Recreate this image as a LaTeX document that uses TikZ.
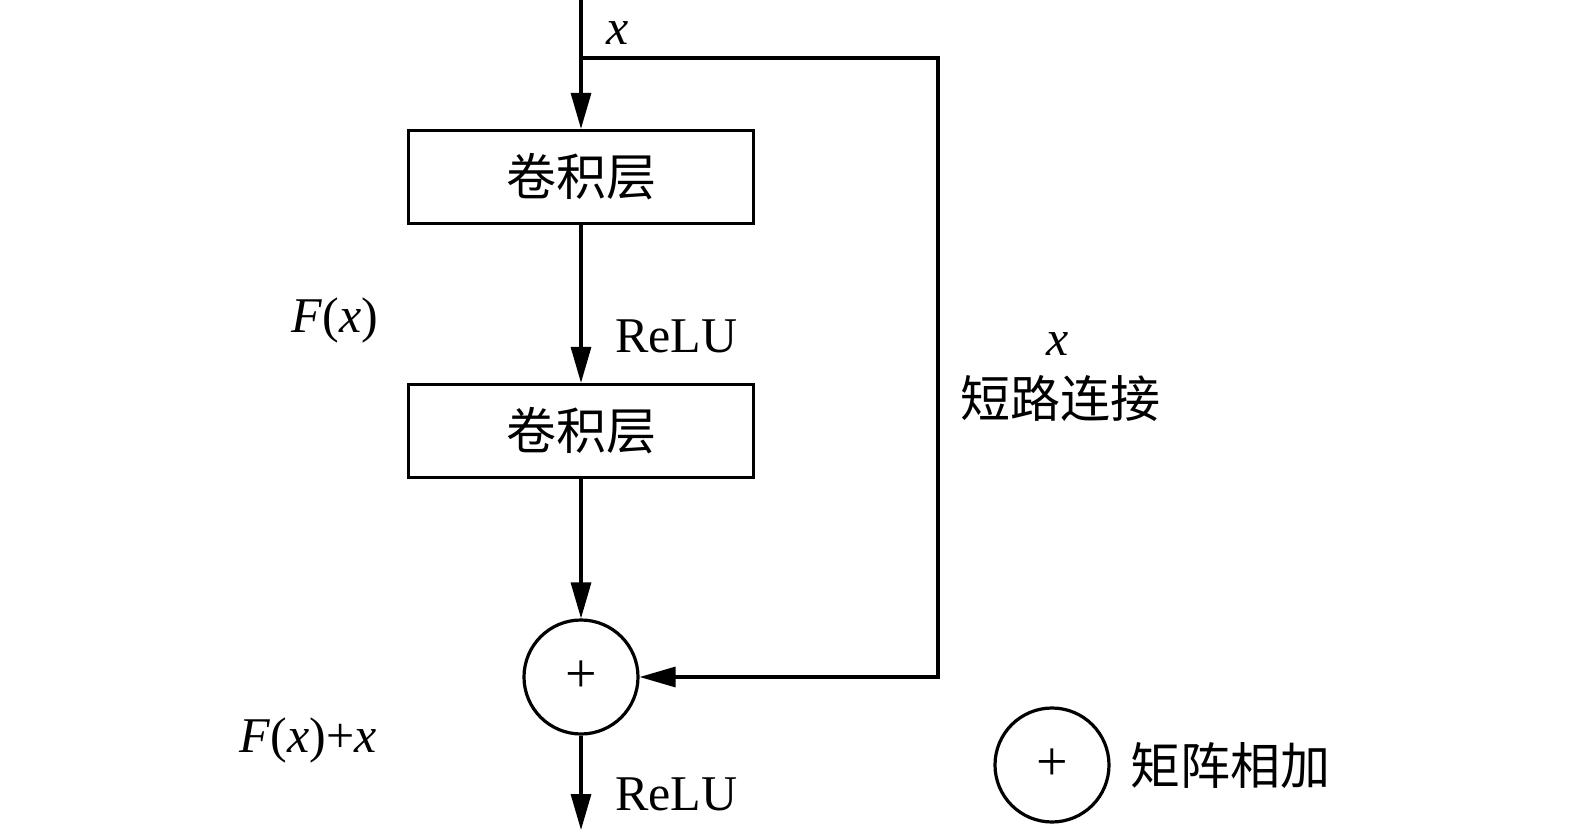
\documentclass[tikz,border=0pt]{standalone}
\usepackage{fontspec}
\setmainfont{Liberation Serif}
\newfontfamily\cjk{Noto Sans CJK SC}
\usetikzlibrary{arrows.meta}

\begin{document}
\begin{tikzpicture}[x=0.5pt,y=-0.5pt,
 layer/.style={draw,line width=1.6pt,minimum width=172.5pt,minimum height=46.5pt,inner sep=0pt,font=\cjk\fontsize{25}{25}\selectfont},
 adder/.style={draw,circle,line width=1.6pt,minimum size=57pt,inner sep=0pt,font=\fontsize{28}{28}\selectfont},
 lbl/.style={inner sep=0pt,font=\fontsize{25}{30}\selectfont},
 wire/.style={line width=1.6pt},
 arr/.style={wire,-{Triangle[length=18pt,width=10pt]}}]
 \useasboundingbox (0,0) rectangle (1575,830);
 % main path
 \node[layer] (conv1) at (581,177) {卷积层};
 \node[layer] (conv2) at (581,431) {卷积层};
 \node[adder] (add) at (581,677) {+};
 \coordinate (in) at (581,0);
 \coordinate (split) at (581,58);
 \coordinate (out) at (581,830);
 % shortcut
 \coordinate (c1) at (938,58);
 \coordinate (c2) at (938,677);
 \draw[wire] (in) -- (split);
 \draw[arr] (split) -- (conv1);
 \draw[arr] (conv1) -- (conv2);
 \draw[arr] (conv2) -- (add);
 \draw[arr] (add) -- (out);
 \draw[arr] (split) -- (c1) -- (c2) -- (add);
 % labels
 \node[lbl] (xin) at (618,33) {\textit{x}};
 \node[lbl] (fx) at (335,320) {\textit{F}(\textit{x})};
 \node[lbl,anchor=west] (relu1) at (615,336) {ReLU};
 \node[lbl] (fxx) at (308,740) {\textit{F}(\textit{x})+\textit{x}};
 \node[lbl,anchor=west] (relu2) at (615,794) {ReLU};
 \node[lbl] (xshort) at (1058,344) {\textit{x}};
 \node[lbl,font=\cjk\fontsize{25}{30}\selectfont] (shortcut) at (1060,399) {短路连接};
 % legend
 \node[adder] (legend) at (1052,765) {+};
 \node[lbl,font=\cjk\fontsize{25}{30}\selectfont] (legendtxt) at (1230,766) {矩阵相加};
\end{tikzpicture}
\end{document}
